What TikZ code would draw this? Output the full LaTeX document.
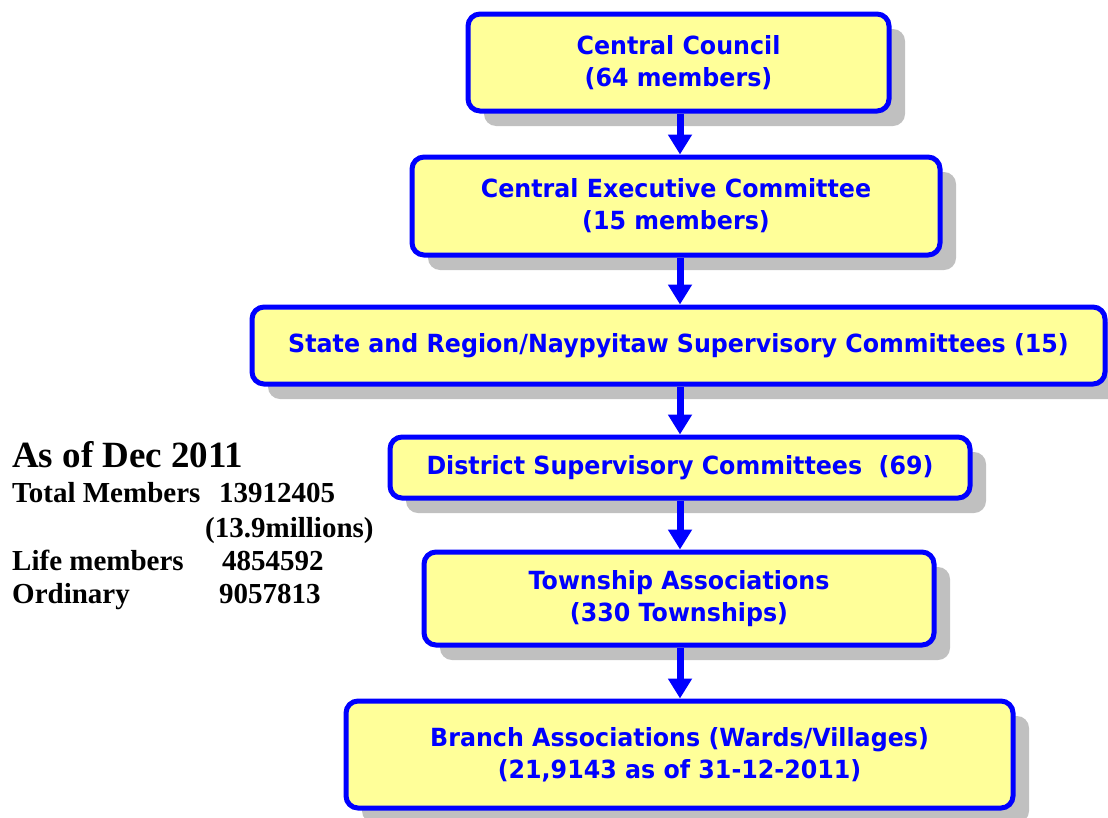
\documentclass[tikz,border=0pt]{standalone}
\usepackage{fontspec}
\newfontfamily\boxfont[FakeStretch=0.95]{DejaVu Sans}
\newfontfamily\serifb{Liberation Serif}
\usetikzlibrary{arrows.meta,shadows}
\definecolor{boxyellow}{HTML}{FFFF99}
\definecolor{boxblue}{HTML}{0000FF}
\definecolor{shadowgray}{HTML}{C0C0C0}
\tikzset{
  orgbox/.style={draw=boxblue, line width=5pt, fill=boxyellow, rounded corners=12pt,
    align=center, text=boxblue, font=\boxfont\bfseries\fontsize{25}{32}\selectfont,
    inner sep=0pt,
    drop shadow={shadow xshift=16pt, shadow yshift=-15pt, fill=shadowgray, opacity=1}},
  flow/.style={draw=boxblue, line width=7pt, -{Triangle[width=23pt,length=20pt]}},
  stat/.style={anchor=base west, inner sep=0pt, font=\serifb\bfseries\fontsize{29}{33}\selectfont},
}
\begin{document}
\begin{tikzpicture}[x=1pt,y=-1pt]
\useasboundingbox (0,0) rectangle (1108,817);
\node[orgbox, minimum width=421pt, minimum height=97pt] (b1) at (678.5,62.5) {Central Council\\(64 members)};
\node[orgbox, minimum width=528pt, minimum height=98pt] (b2) at (676,206) {Central Executive Committee\\(15 members)};
\node[orgbox, minimum width=853pt, minimum height=77pt] (b3) at (678.5,345.5) {State and Region/Naypyitaw Supervisory Committees (15)};
\node[orgbox, minimum width=580pt, minimum height=61pt] (b4) at (680,467.5) {District Supervisory Committees\ \ (69)};
\node[orgbox, minimum width=510pt, minimum height=93pt] (b5) at (679,598.5) {Township Associations\\(330 Townships)};
\node[orgbox, minimum width=667pt, minimum height=107pt] (b6) at (679.5,754.5) {Branch Associations (Wards/Villages)\\(21,9143 as of 31-12-2011)};
\draw[flow] (b1.south -| 680,0) -- (b2.north -| 680,0);
\draw[flow] (b2.south -| 680,0) -- (b3.north -| 680,0);
\draw[flow] (b3.south -| 680,0) -- (b4.north -| 680,0);
\draw[flow] (b4.south -| 680,0) -- (b5.north -| 680,0);
\draw[flow] (b5.south -| 680,0) -- (b6.north -| 680,0);
\node[anchor=base west, inner sep=0pt, font=\serifb\bfseries\fontsize{37}{40}\selectfont] (asof) at (12,467) {As of Dec 2011};
\node[stat] (tm) at (12,502) {Total Members};
\node[stat] (tmv) at (219,502) {13912405};
\node[stat] (mil) at (205,537) {(13.9millions)};
\node[stat] (lm) at (12,570) {Life members};
\node[stat] (lmv) at (222,570) {4854592};
\node[stat] (od) at (12,603) {Ordinary};
\node[stat] (odv) at (219,603) {9057813};
\end{tikzpicture}
\end{document}
